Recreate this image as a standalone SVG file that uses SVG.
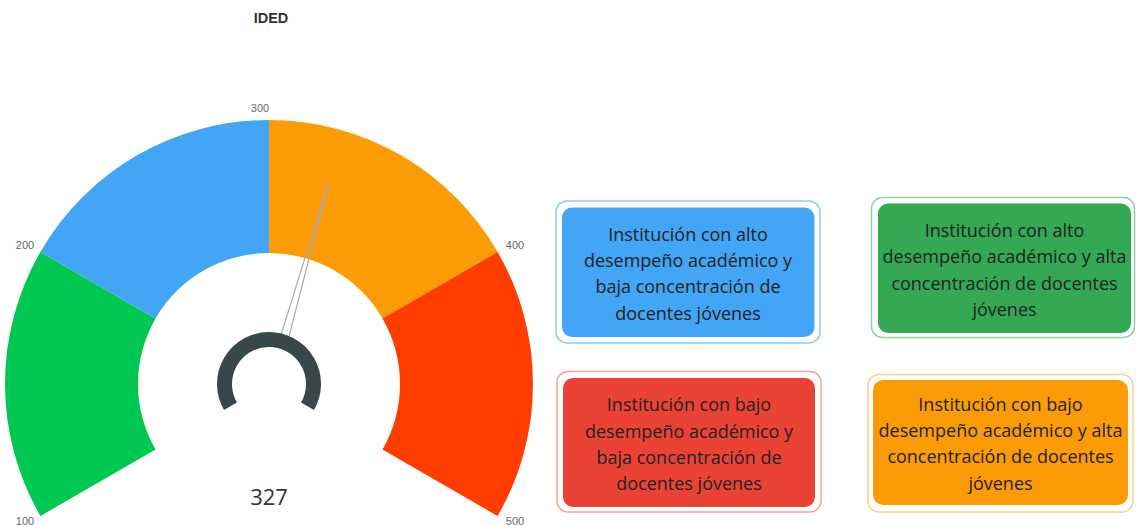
<svg xmlns="http://www.w3.org/2000/svg" width="1139" height="525" viewBox="0 0 1139 525">
<style>
.tick{font-family:"Liberation Sans",Arial,sans-serif;font-size:11px;fill:#666;text-anchor:middle}
.box{font-family:"Open Sans","Noto Sans",sans-serif;font-size:18px;fill:#222;text-anchor:middle}
.outer{fill:#fff;stroke-width:1.5}
</style>
<rect width="1139" height="525" fill="#fff"/>
<text x="271" y="23" font-family="Liberation Sans,Arial,sans-serif" font-size="14.5" font-weight="bold" fill="#333" text-anchor="middle">IDED</text>
<g id="gauge">
<path d="M 40.37 516 A 264 264 0 0 1 40.37 252 L 155.55 318.5 A 131 131 0 0 0 155.55 449.5 Z" fill="#00c853"/>
<path d="M 40.37 252 A 264 264 0 0 1 269 120 L 269 253 A 131 131 0 0 0 155.55 318.5 Z" fill="#42a5f5"/>
<path d="M 269 120 A 264 264 0 0 1 497.63 252 L 382.45 318.5 A 131 131 0 0 0 269 253 Z" fill="#fb9c06"/>
<path d="M 497.63 252 A 264 264 0 0 1 497.63 516 L 382.45 449.5 A 131 131 0 0 0 382.45 318.5 Z" fill="#ff3d00"/>
<polygon points="287.6,341.9 279.5,339.6 328.6,182.3" fill="none" stroke="#aaa" stroke-width="1.2" stroke-linejoin="miter"/>
<path d="M 230.46 406.25 A 44.5 44.5 0 1 1 307.54 406.25" fill="none" stroke="#37474a" stroke-width="15"/>
<text class="tick" x="260" y="112">300</text>
<text class="tick" x="25" y="249">200</text>
<text class="tick" x="515" y="249">400</text>
<text class="tick" x="25" y="525">100</text>
<text class="tick" x="515" y="525">500</text>
<text x="269" y="505" font-family="Open Sans,Noto Sans,sans-serif" font-size="22" fill="#333" text-anchor="middle">327</text>
</g>
<g id="box-blue">
<rect class="outer" x="556" y="201" width="264" height="142" rx="11" stroke="#90c8f8"/>
<rect x="562" y="207.5" width="252.5" height="129.5" rx="10" fill="#42a5f5"/>
<text class="box" x="688" y="240.5">Institución con alto</text>
<text class="box" x="688" y="266.5">desempeño académico y</text>
<text class="box" x="688" y="293">baja concentración de</text>
<text class="box" x="688" y="319.5">docentes jóvenes</text>
</g>
<g id="box-green">
<rect class="outer" x="871.5" y="197.5" width="263" height="140" rx="11" stroke="#8fd1a0"/>
<rect x="878" y="203.5" width="253" height="129.5" rx="10" fill="#34a853"/>
<text class="box" x="1004.5" y="236.5">Institución con alto</text>
<text class="box" x="1004.5" y="262.5">desempeño académico y alta</text>
<text class="box" x="1004.5" y="289.5">concentración de docentes</text>
<text class="box" x="1004.5" y="315.5">jóvenes</text>
</g>
<g id="box-red">
<rect class="outer" x="557" y="371.5" width="264" height="140.5" rx="11" stroke="#f3a49c"/>
<rect x="563" y="378" width="252" height="129" rx="10" fill="#ea4335"/>
<text class="box" x="689" y="410.5">Institución con bajo</text>
<text class="box" x="689" y="437.5">desempeño académico y</text>
<text class="box" x="689" y="463.5">baja concentración de</text>
<text class="box" x="689" y="489.5">docentes jóvenes</text>
</g>
<g id="box-orange">
<rect class="outer" x="868" y="374.5" width="265" height="137.5" rx="11" stroke="#fdcf8a"/>
<rect x="873" y="380" width="255" height="125" rx="10" fill="#fb9c06"/>
<text class="box" x="1000.5" y="410.5">Institución con bajo</text>
<text class="box" x="1000.5" y="436.5">desempeño académico y alta</text>
<text class="box" x="1000.5" y="462.5">concentración de docentes</text>
<text class="box" x="1000.5" y="489.5">jóvenes</text>
</g>
<g id="connectors"></g>
</svg>
